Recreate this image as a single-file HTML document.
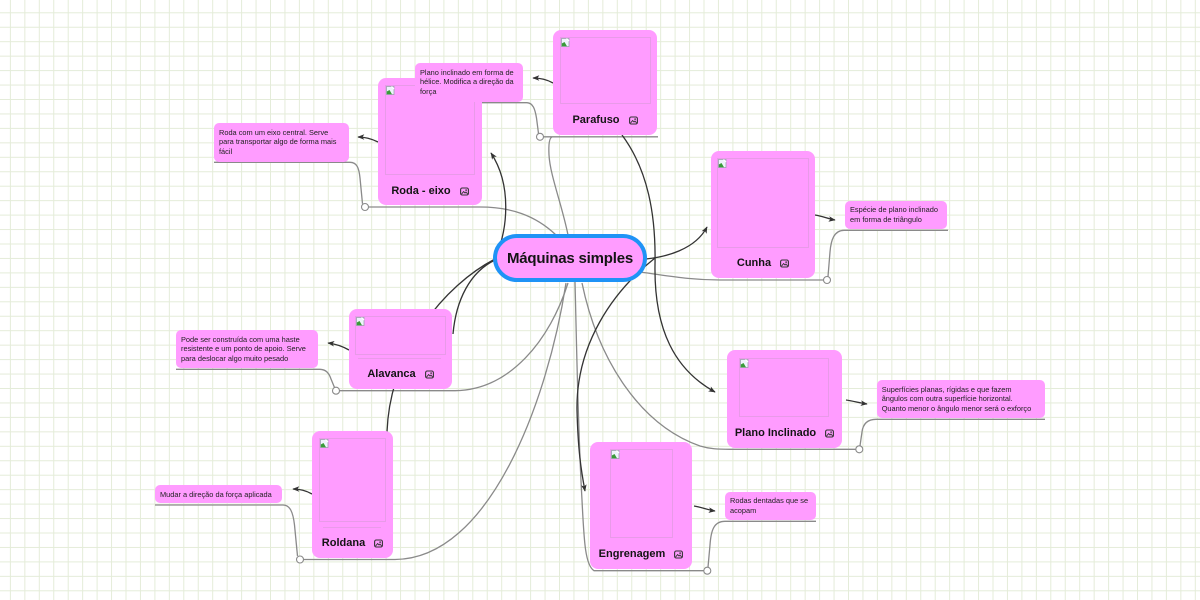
<!DOCTYPE html>
<html>
<head>
<meta charset="utf-8">
<style>
  html,body{margin:0;padding:0;}
  body{width:1200px;height:600px;position:relative;overflow:hidden;background:#fff;font-family:"Liberation Sans",sans-serif;}
  svg.bg{position:absolute;left:0;top:0;}
  .n{position:absolute;background:#ff9cff;border-radius:8px;box-sizing:border-box;}
  .img{position:absolute;border:1px solid rgba(150,150,150,0.22);box-sizing:border-box;}
  .bi{position:absolute;left:0px;top:0px;}
  .lb{position:absolute;left:0;right:0;height:14px;display:flex;justify-content:center;align-items:center;gap:9px;font-weight:bold;font-size:11px;color:#141414;white-space:nowrap;}
  .lb svg{display:block;}
  .d{position:absolute;background:#ff9cff;border-radius:5px;box-sizing:border-box;padding:4.6px 5px;font-size:7.4px;line-height:9.6px;color:#222;white-space:nowrap;}
  .c{position:absolute;left:493px;top:234px;width:154px;height:48px;box-sizing:border-box;border:4.5px solid #1f93f6;border-radius:24px;background:#ff9cff;display:flex;align-items:center;justify-content:center;font-weight:bold;font-size:15px;letter-spacing:-0.2px;color:#141414;white-space:nowrap;}
</style>
</head>
<body>
<svg class="bg" width="1200" height="600" viewBox="0 0 1200 600">
  <defs>
    <pattern id="grid" patternUnits="userSpaceOnUse" x="9.9" y="12.3" width="14.45" height="14.45">
      <rect x="0" y="0" width="1" height="14.45" fill="#e4ecd9"/>
      <rect x="0" y="0" width="14.45" height="1" fill="#e4ecd9"/>
    </pattern>
    <marker id="ah" viewBox="0 0 10 10" refX="9" refY="5" markerWidth="7" markerHeight="7" orient="auto" markerUnits="userSpaceOnUse">
      <path d="M0,1 L10,5 L0,9 L2.5,5 z" fill="#333"/>
    </marker>
  </defs>
  <rect width="1200" height="600" fill="url(#grid)"/>

  <!-- gray main connectors -->
  <g fill="none" stroke="#8a8a8a" stroke-width="1.3">
    <path d="M556,235 C535,215 510,207 480,207 L368.5,207"/>
    <path d="M214,162.3 L350,162.3 C357,162.3 359,168 360,178 L362.5,203.8"/>
    <path d="M568,235 C562,205 550,175 549,155 C548.5,145 549,138 552,137"/>
    <path d="M543.5,136.8 L658,136.8"/>
    <path d="M415,102.7 L527,102.7 C533,103 535,109 536.5,118 L538.5,133.5"/>
    <path d="M640,272 C670,276 690,280 720,280 L823.5,280"/>
    <path d="M828,276.5 L830,252 C831,240 834,230.5 844,230.3 L948,230.3"/>
    <path d="M582,283 C598,360 640,425 700,446 C710,449 718,449.3 730,449.3 L855.5,449.3"/>
    <path d="M860,445.8 L862,432 C863,424 867,419.3 876,419.3 L1045,419.3"/>
    <path d="M575,282 C577,360 578,430 582,500 C584,540 585,565 594,570.7 L703.5,570.7"/>
    <path d="M708,567.2 L710,545 C711,530 714,521.3 725,521.3 L816,521.3"/>
    <path d="M568,283 C550,340 510,390 455,390.7 L339.5,390.7"/>
    <path d="M176,369.3 L320,369.3 C326,369.5 329,373 331,379 L334.5,387.5"/>
    <path d="M566,283 C548,400 490,559 395,559.5 L303.5,559.5"/>
    <path d="M155,505 L283,505 C290,505 293,512 294.5,525 L297.5,556"/>
  </g>

  <!-- dark relationship lines -->
  <g fill="none" stroke="#333" stroke-width="1.3">
    <path d="M495,258 C508,230 512,185 491,153" marker-end="url(#ah)"/>
    <path d="M495,260 C470,272 456,300 453,334"/>
    <path d="M495,259 C445,285 390,350 387,432"/>
    <path d="M622,135 C648,170 656,215 655,265 C654,330 675,370 715,392" marker-end="url(#ah)"/>
    <path d="M646,259 C665,257 695,250 707,227" marker-end="url(#ah)"/>
    <path d="M655,258 C612,292 576,345 577,410 C578,450 581,470 585,491" marker-end="url(#ah)"/>
    <path d="M378,142 C370,138 364,137 358,137" marker-end="url(#ah)"/>
    <path d="M553,83 C546,79 540,78 533,78" marker-end="url(#ah)"/>
    <path d="M815,215 C822,216 829,219 835,220" marker-end="url(#ah)"/>
    <path d="M846,400 C853,401 860,403 867,404" marker-end="url(#ah)"/>
    <path d="M694,506 C701,507 708,510 715,511" marker-end="url(#ah)"/>
    <path d="M349,350 C342,346 336,344 328,343" marker-end="url(#ah)"/>
    <path d="M312,494 C305,490 299,489 293,489" marker-end="url(#ah)"/>
  </g>

  <g fill="#fff" stroke="#8a8a8a" stroke-width="1.1">
    <circle cx="365" cy="207" r="3.5"/>
    <circle cx="540" cy="136.8" r="3.5"/>
    <circle cx="827" cy="280" r="3.5"/>
    <circle cx="859.3" cy="449.3" r="3.5"/>
    <circle cx="707.3" cy="570.7" r="3.5"/>
    <circle cx="336" cy="390.7" r="3.5"/>
    <circle cx="300" cy="559.5" r="3.5"/>
  </g>
</svg>

<!-- Roda - eixo -->
<div class="n" style="left:378px;top:78px;width:104px;height:127px;">
  <div class="img" style="left:7px;top:7px;width:90px;height:90px;">
    <svg class="bi" width="9" height="9" viewBox="0 0 9 9"><rect x="0.5" y="0.5" width="7.5" height="8" fill="#eef3fb" stroke="#9aa3ad" stroke-width="0.8"/><path d="M0.8,8.2 L0.8,5.5 L3.5,4 L6,8.2 z" fill="#3a9a3a"/><path d="M5.5,0.5 L8,3" stroke="#fff" stroke-width="1.2"/></svg>
  </div>
  <div class="lb" style="top:106px;"><span>Roda - eixo</span><svg width="9" height="9" viewBox="0 0 9 9"><rect x="0.6" y="1" width="7.8" height="7" rx="1.6" fill="none" stroke="#333" stroke-width="1.1"/><path d="M1.6,7 L3.6,4.6 L5,6 L6,5 L7.6,7" fill="none" stroke="#333" stroke-width="0.9"/><circle cx="6.1" cy="3.1" r="0.8" fill="#333"/></svg></div>
</div>

<!-- Parafuso -->
<div class="n" style="left:553px;top:30px;width:104px;height:105px;">
  <div class="img" style="left:7px;top:7px;width:91px;height:67px;">
    <svg class="bi" width="9" height="9" viewBox="0 0 9 9"><rect x="0.5" y="0.5" width="7.5" height="8" fill="#eef3fb" stroke="#9aa3ad" stroke-width="0.8"/><path d="M0.8,8.2 L0.8,5.5 L3.5,4 L6,8.2 z" fill="#3a9a3a"/><path d="M5.5,0.5 L8,3" stroke="#fff" stroke-width="1.2"/></svg>
  </div>
  <div class="lb" style="top:83px;"><span>Parafuso</span><svg width="9" height="9" viewBox="0 0 9 9"><rect x="0.6" y="1" width="7.8" height="7" rx="1.6" fill="none" stroke="#333" stroke-width="1.1"/><path d="M1.6,7 L3.6,4.6 L5,6 L6,5 L7.6,7" fill="none" stroke="#333" stroke-width="0.9"/><circle cx="6.1" cy="3.1" r="0.8" fill="#333"/></svg></div>
</div>

<!-- Cunha -->
<div class="n" style="left:711px;top:151px;width:104px;height:127px;">
  <div class="img" style="left:6px;top:7px;width:92px;height:90px;">
    <svg class="bi" width="9" height="9" viewBox="0 0 9 9"><rect x="0.5" y="0.5" width="7.5" height="8" fill="#eef3fb" stroke="#9aa3ad" stroke-width="0.8"/><path d="M0.8,8.2 L0.8,5.5 L3.5,4 L6,8.2 z" fill="#3a9a3a"/><path d="M5.5,0.5 L8,3" stroke="#fff" stroke-width="1.2"/></svg>
  </div>
  <div class="lb" style="top:105px;"><span>Cunha</span><svg width="9" height="9" viewBox="0 0 9 9"><rect x="0.6" y="1" width="7.8" height="7" rx="1.6" fill="none" stroke="#333" stroke-width="1.1"/><path d="M1.6,7 L3.6,4.6 L5,6 L6,5 L7.6,7" fill="none" stroke="#333" stroke-width="0.9"/><circle cx="6.1" cy="3.1" r="0.8" fill="#333"/></svg></div>
</div>

<!-- Plano Inclinado -->
<div class="n" style="left:727px;top:350px;width:115px;height:98px;">
  <div class="img" style="left:12px;top:8px;width:90px;height:59px;">
    <svg class="bi" width="9" height="9" viewBox="0 0 9 9"><rect x="0.5" y="0.5" width="7.5" height="8" fill="#eef3fb" stroke="#9aa3ad" stroke-width="0.8"/><path d="M0.8,8.2 L0.8,5.5 L3.5,4 L6,8.2 z" fill="#3a9a3a"/><path d="M5.5,0.5 L8,3" stroke="#fff" stroke-width="1.2"/></svg>
  </div>
  <div class="lb" style="top:76px;"><span>Plano Inclinado</span><svg width="9" height="9" viewBox="0 0 9 9"><rect x="0.6" y="1" width="7.8" height="7" rx="1.6" fill="none" stroke="#333" stroke-width="1.1"/><path d="M1.6,7 L3.6,4.6 L5,6 L6,5 L7.6,7" fill="none" stroke="#333" stroke-width="0.9"/><circle cx="6.1" cy="3.1" r="0.8" fill="#333"/></svg></div>
</div>

<!-- Engrenagem -->
<div class="n" style="left:590px;top:442px;width:102px;height:127px;">
  <div class="img" style="left:20px;top:7px;width:63px;height:89px;">
    <svg class="bi" width="9" height="9" viewBox="0 0 9 9"><rect x="0.5" y="0.5" width="7.5" height="8" fill="#eef3fb" stroke="#9aa3ad" stroke-width="0.8"/><path d="M0.8,8.2 L0.8,5.5 L3.5,4 L6,8.2 z" fill="#3a9a3a"/><path d="M5.5,0.5 L8,3" stroke="#fff" stroke-width="1.2"/></svg>
  </div>
  <div class="lb" style="top:105px;"><span>Engrenagem</span><svg width="9" height="9" viewBox="0 0 9 9"><rect x="0.6" y="1" width="7.8" height="7" rx="1.6" fill="none" stroke="#333" stroke-width="1.1"/><path d="M1.6,7 L3.6,4.6 L5,6 L6,5 L7.6,7" fill="none" stroke="#333" stroke-width="0.9"/><circle cx="6.1" cy="3.1" r="0.8" fill="#333"/></svg></div>
</div>

<!-- Alavanca -->
<div class="n" style="left:349px;top:309px;width:103px;height:80px;">
  <div class="img" style="left:6px;top:7px;width:91px;height:39px;">
    <svg class="bi" width="9" height="9" viewBox="0 0 9 9"><rect x="0.5" y="0.5" width="7.5" height="8" fill="#eef3fb" stroke="#9aa3ad" stroke-width="0.8"/><path d="M0.8,8.2 L0.8,5.5 L3.5,4 L6,8.2 z" fill="#3a9a3a"/><path d="M5.5,0.5 L8,3" stroke="#fff" stroke-width="1.2"/></svg>
  </div>
  <div style="position:absolute;left:9px;top:49px;width:83px;height:1px;background:rgba(150,150,150,0.2);"></div>
  <div class="lb" style="top:58px;"><span>Alavanca</span><svg width="9" height="9" viewBox="0 0 9 9"><rect x="0.6" y="1" width="7.8" height="7" rx="1.6" fill="none" stroke="#333" stroke-width="1.1"/><path d="M1.6,7 L3.6,4.6 L5,6 L6,5 L7.6,7" fill="none" stroke="#333" stroke-width="0.9"/><circle cx="6.1" cy="3.1" r="0.8" fill="#333"/></svg></div>
</div>

<!-- Roldana -->
<div class="n" style="left:312px;top:431px;width:81px;height:127px;">
  <div class="img" style="left:7px;top:7px;width:67px;height:84px;">
    <svg class="bi" width="9" height="9" viewBox="0 0 9 9"><rect x="0.5" y="0.5" width="7.5" height="8" fill="#eef3fb" stroke="#9aa3ad" stroke-width="0.8"/><path d="M0.8,8.2 L0.8,5.5 L3.5,4 L6,8.2 z" fill="#3a9a3a"/><path d="M5.5,0.5 L8,3" stroke="#fff" stroke-width="1.2"/></svg>
  </div>
  <div style="position:absolute;left:11px;top:96px;width:58px;height:1px;background:rgba(150,150,150,0.2);"></div>
  <div class="lb" style="top:105px;"><span>Roldana</span><svg width="9" height="9" viewBox="0 0 9 9"><rect x="0.6" y="1" width="7.8" height="7" rx="1.6" fill="none" stroke="#333" stroke-width="1.1"/><path d="M1.6,7 L3.6,4.6 L5,6 L6,5 L7.6,7" fill="none" stroke="#333" stroke-width="0.9"/><circle cx="6.1" cy="3.1" r="0.8" fill="#333"/></svg></div>
</div>

<!-- descriptions -->
<div class="d" style="left:214px;top:123.3px;width:134.5px;height:38.5px;">Roda com um eixo central. Serve<br>para transportar algo de forma mais<br>fácil</div>
<div class="d" style="left:415px;top:63.3px;width:108.3px;height:38.4px;">Plano inclinado em forma de<br>hélice. Modifica a direção da<br>força</div>
<div class="d" style="left:845px;top:200.7px;width:102.3px;height:28.6px;">Espécie de plano inclinado<br>em forma de triângulo</div>
<div class="d" style="left:876.7px;top:380px;width:168.3px;height:38.3px;">Superfícies planas, rígidas e que fazem<br>ângulos com outra superfície horizontal.<br>Quanto menor o ângulo menor será o exforço</div>
<div class="d" style="left:725px;top:491.7px;width:90.7px;height:28.3px;">Rodas dentadas que se<br>acopam</div>
<div class="d" style="left:176px;top:330px;width:142.3px;height:38.3px;">Pode ser construída com uma haste<br>resistente e um ponto de apoio. Serve<br>para deslocar algo muito pesado</div>
<div class="d" style="left:155px;top:485px;width:126.7px;height:18.3px;">Mudar a direção da força aplicada</div>

<div class="c">Máquinas simples</div>
</body>
</html>
